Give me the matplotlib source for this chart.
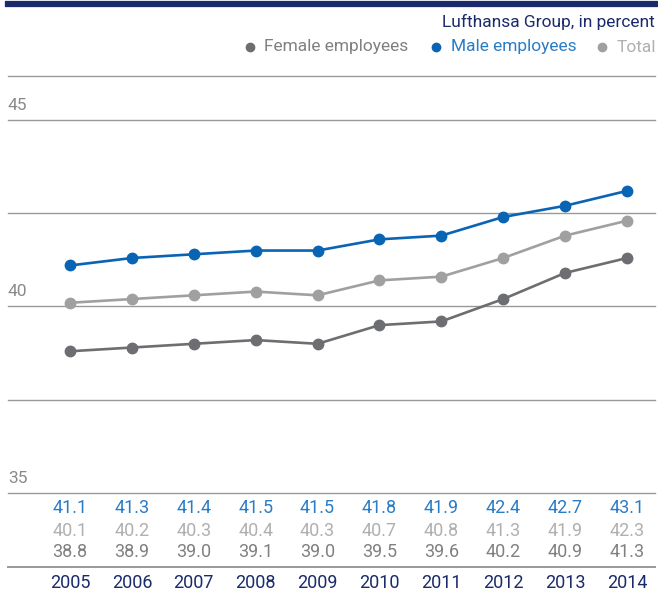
import matplotlib
matplotlib.use("Agg")
import matplotlib.pyplot as plt
import matplotlib.transforms as mtransforms
from matplotlib.lines import Line2D

plt.rcParams['font.family'] = ['Roboto', 'DejaVu Sans']
plt.rcParams['font.weight'] = 'normal'

years = [2005, 2006, 2007, 2008, 2009, 2010, 2011, 2012, 2013, 2014]
male = [41.1, 41.3, 41.4, 41.5, 41.5, 41.8, 41.9, 42.4, 42.7, 43.1]
total = [40.1, 40.2, 40.3, 40.4, 40.3, 40.7, 40.8, 41.3, 41.9, 42.3]
female = [38.8, 38.9, 39.0, 39.1, 39.0, 39.5, 39.6, 40.2, 40.9, 41.3]
grid_vals = [35, 37.5, 40, 42.5, 45]
ytick_labels = {35: '35', 40: '40', 45: '45'}

W, H = 658, 595
navy = '#1b2a6b'
blue = '#0a64b4'
blue_txt = '#2a7cc6'
dgray = '#6d6e71'
lgray = '#a0a0a2'


def fx(x):
    return x / W


def fy(y):
    return 1 - y / H


fig = plt.figure(figsize=(W / 100, H / 100), dpi=100)
ax = fig.add_axes([fx(8), fy(493), fx(655 - 8), (493 - 120) / H])
ax.set_xlim(2005 - 62 / 61.9, 2014 + 28 / 61.9)
ax.set_ylim(35, 45)
ax.axis('off')

for v in grid_vals:
    ax.axhline(v, color='#999999', lw=1.0, clip_on=False, zorder=1)
    if v in ytick_labels:
        ax.text(0.0, v + 0.2, ytick_labels[v], transform=ax.get_yaxis_transform(),
                ha='left', va='bottom', fontsize=12.5, color='#8a8a8a')

# series
ax.plot(years, female, color=dgray, lw=1.9, marker='o', ms=7.5, zorder=3)
ax.plot(years, total, color=lgray, lw=1.9, marker='o', ms=7.5, zorder=3)
ax.plot(years, male, color=blue, lw=1.9, marker='o', ms=7.5, zorder=3)

# frame lines and top bar
fig.add_artist(Line2D([fx(8), fx(658)], [fy(3.5), fy(3.5)], color=navy, lw=4.5))
fig.add_artist(Line2D([fx(8), fx(655)], [fy(75.5), fy(75.5)], color='#999999', lw=1.0))
fig.add_artist(Line2D([fx(8), fx(655)], [fy(567), fy(567)], color='#999999', lw=1.4))

# title and legend
fig.text(fx(655), fy(22), 'Lufthansa Group, in percent', ha='right', va='center',
         fontsize=12.5, color=navy)
legend_items = [('Female employees', dgray, '#808080', 250, 264),
                ('Male employees', blue, blue_txt, 436, 451),
                ('Total', lgray, '#b0b0b0', 602, 617)]
for label, mc, tc, dx, tx in legend_items:
    fig.add_artist(Line2D([fx(dx)], [fy(47)], marker='o', ms=6, color=mc, lw=0))
    fig.text(fx(tx), fy(47), label, ha='left', va='center', fontsize=12.5, color=tc)

# table beneath
tr = mtransforms.blended_transform_factory(ax.transData, fig.transFigure)
for i, yr in enumerate(years):
    ax.text(yr, fy(508), f'{male[i]:.1f}', transform=tr, ha='center', va='center',
            fontsize=13, color=blue_txt)
    ax.text(yr, fy(531), f'{total[i]:.1f}', transform=tr, ha='center', va='center',
            fontsize=13, color='#b0b0b0')
    ax.text(yr, fy(552), f'{female[i]:.1f}', transform=tr, ha='center', va='center',
            fontsize=13, color='#808080')
    ax.text(yr, fy(583), str(yr), transform=tr, ha='center', va='center',
            fontsize=13, color=navy)

fig.savefig('out.png', dpi=100)
